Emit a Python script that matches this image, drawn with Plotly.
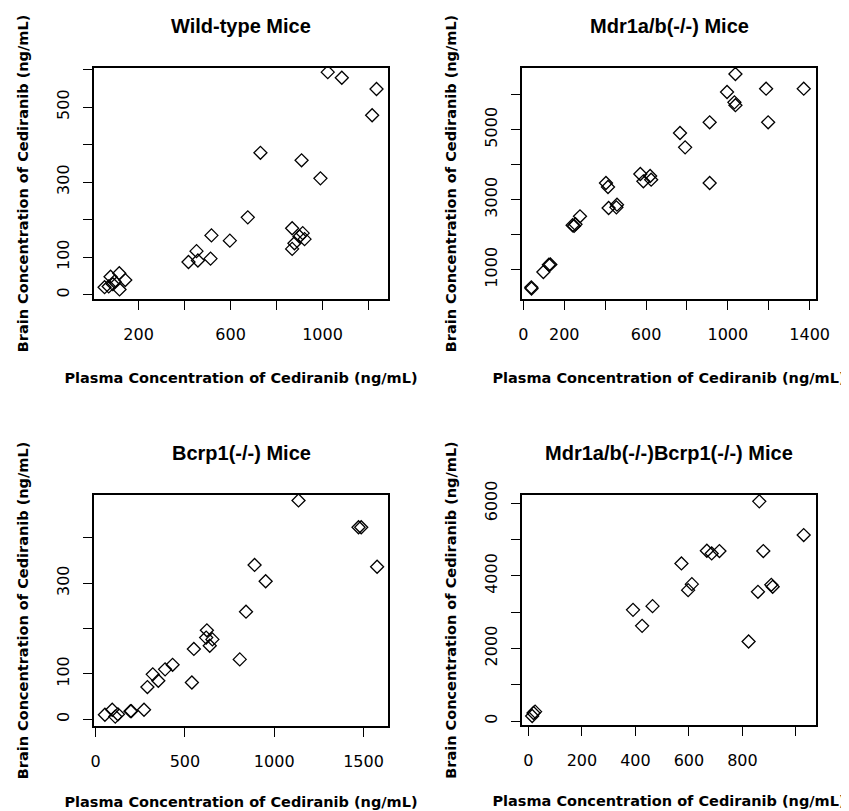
import plotly.graph_objects as go

# values (plasma ng/mL, brain ng/mL)
titles = ["Wild-type Mice", "Mdr1a/b(-/-) Mice",
          "Bcrp1(-/-) Mice", "Mdr1a/b(-/-)Bcrp1(-/-) Mice"]

wt_plasma = [52, 70, 78, 95, 116, 142, 117, 88,
             417, 452, 458, 513, 517, 597, 675, 730,
             868, 914, 922, 878, 868, 900, 909, 991,
             1023, 1084, 1216, 1235]
wt_brain = [20, 22, 48, 35, 57, 39, 14, 28,
            87, 116, 91, 96, 158, 144, 206, 378,
            177, 164, 148, 137, 122, 155, 358, 310,
            593, 578, 478, 548]

mdr_plasma = [39, 40, 98, 125, 132, 241, 255, 248, 277,
              404, 414, 417, 458, 455, 572, 587, 620, 625,
              766, 791, 911, 911, 996, 1032, 1037, 1037,
              1187, 1197, 1371]
mdr_brain = [495, 460, 933, 1140, 1150, 2270, 2300, 2250, 2524,
             3476, 3362, 2762, 2857, 2780, 3733, 3524, 3676, 3571,
             4905, 4495, 3476, 5210, 6076, 5781, 5700, 6590,
             6171, 5210, 6171]

bcrp_plasma = [52, 93, 125, 110, 195, 200, 271, 290, 320, 351,
               389, 431, 539, 550, 619, 623, 639, 654, 807, 842,
               890, 952, 1136, 1472, 1487, 1576]
bcrp_brain = [10, 21, 11, 6, 18, 18, 21, 71, 99, 85,
              110, 120, 81, 155, 180, 196, 162, 176, 132, 237,
              340, 304, 482, 423, 423, 336]

tko_plasma = [14, 19, 25, 391, 425, 464, 572, 597, 611, 667,
              685, 714, 823, 858, 863, 878, 908, 913, 1029]
tko_brain = [138, 220, 258, 3063, 2622, 3165, 4342, 3606, 3772, 4692,
             4618, 4683, 2190, 3560, 6053, 4683, 3753, 3698, 5124]

x_ticks = [[200, 400, 600, 800, 1000, 1200],
           [0, 200, 400, 600, 800, 1000, 1200, 1400],
           [0, 500, 1000, 1500],
           [0, 200, 400, 600, 800, 1000]]
x_labels = [["200", "", "600", "", "1000", ""],
            ["0", "200", "", "600", "", "1000", "", "1400"],
            ["0", "500", "1000", "1500"],
            ["0", "200", "400", "600", "800", ""]]
y_ticks = [[0, 100, 200, 300, 400, 500, 600],
           [1000, 2000, 3000, 4000, 5000, 6000],
           [0, 100, 200, 300, 400],
           [0, 1000, 2000, 3000, 4000, 5000, 6000]]
y_labels = [["0", "100", "", "300", "", "500", ""],
            ["1000", "", "3000", "", "5000", ""],
            ["0", "100", "", "300", ""],
            ["0", "", "2000", "", "4000", "", "6000"]]

x_range = [[6, 1285], [-6.5, 1431], [-9, 1637], [-24, 1075]]
y_range = [[-11.5, 604], [162, 6762], [-14.7, 494], [-110, 6228]]

W, H = 849, 811
OFF = 7  # page body margin
boxes = [(93, 387, 67, 298), (521, 815, 67, 298),
         (93, 387, 494, 725), (521, 815, 494, 724)]
title_y = [25, 25, 452, 452]
xtitle_gap = [30, 30, 27, 27]

data = [(wt_plasma, wt_brain), (mdr_plasma, mdr_brain),
        (bcrp_plasma, bcrp_brain), (tko_plasma, tko_brain)]

FONT = "DejaVu Sans"

fig = go.Figure()
layout = {}
annotations = []
for i, (xs, ys) in enumerate(data):
    n = "" if i == 0 else str(i + 1)
    fig.add_trace(go.Scatter(
        x=xs, y=ys, mode="markers",
        marker=dict(symbol="diamond-open", size=10, color="black",
                    line=dict(width=1.3, color="black")),
        xaxis="x" + n, yaxis="y" + n, showlegend=False,
    ))
    x0, x1, y0, y1 = [v - OFF for v in boxes[i]]
    common = dict(showline=True, mirror=True, linecolor="black", linewidth=1.5,
                  ticks="outside", ticklen=9, tickcolor="black", tickwidth=1.2,
                  showgrid=False, zeroline=False, automargin=False,
                  tickfont=dict(family=FONT, size=16, color="black"))
    layout["xaxis" + n] = dict(
        common, domain=[x0 / W, x1 / W], anchor="y" + n,
        range=x_range[i], tickmode="array", ticklabelstandoff=11,
        tickvals=x_ticks[i], ticktext=x_labels[i],
        title=dict(text="Plasma Concentration of Cediranib (ng/mL)",
                   font=dict(family=FONT, size=14.5, color="black", weight="bold"),
                   standoff=xtitle_gap[i]),
    )
    layout["yaxis" + n] = dict(
        common, domain=[1 - y1 / H, 1 - y0 / H], anchor="x" + n,
        range=y_range[i], tickmode="array", tickangle=-90, ticklabelstandoff=8,
        tickvals=y_ticks[i], ticktext=y_labels[i],
        title=dict(text="Brain Concentration of Cediranib (ng/mL)",
                   font=dict(family=FONT, size=14.5, color="black", weight="bold"),
                   standoff=22),
    )
    annotations.append(dict(
        text="<b>" + titles[i] + "</b>", xref="paper", yref="paper",
        x=(x0 + x1) / 2 / W, y=1 - (title_y[i] - OFF) / H,
        xanchor="center", yanchor="middle", showarrow=False,
        font=dict(family="Liberation Sans", size=20, color="black"),
    ))

fig.update_layout(
    **layout,
    annotations=annotations,
    width=W, height=H,
    margin=dict(l=0, r=0, t=0, b=0),
    paper_bgcolor="white", plot_bgcolor="white",
)

fig.write_html("out.html")
